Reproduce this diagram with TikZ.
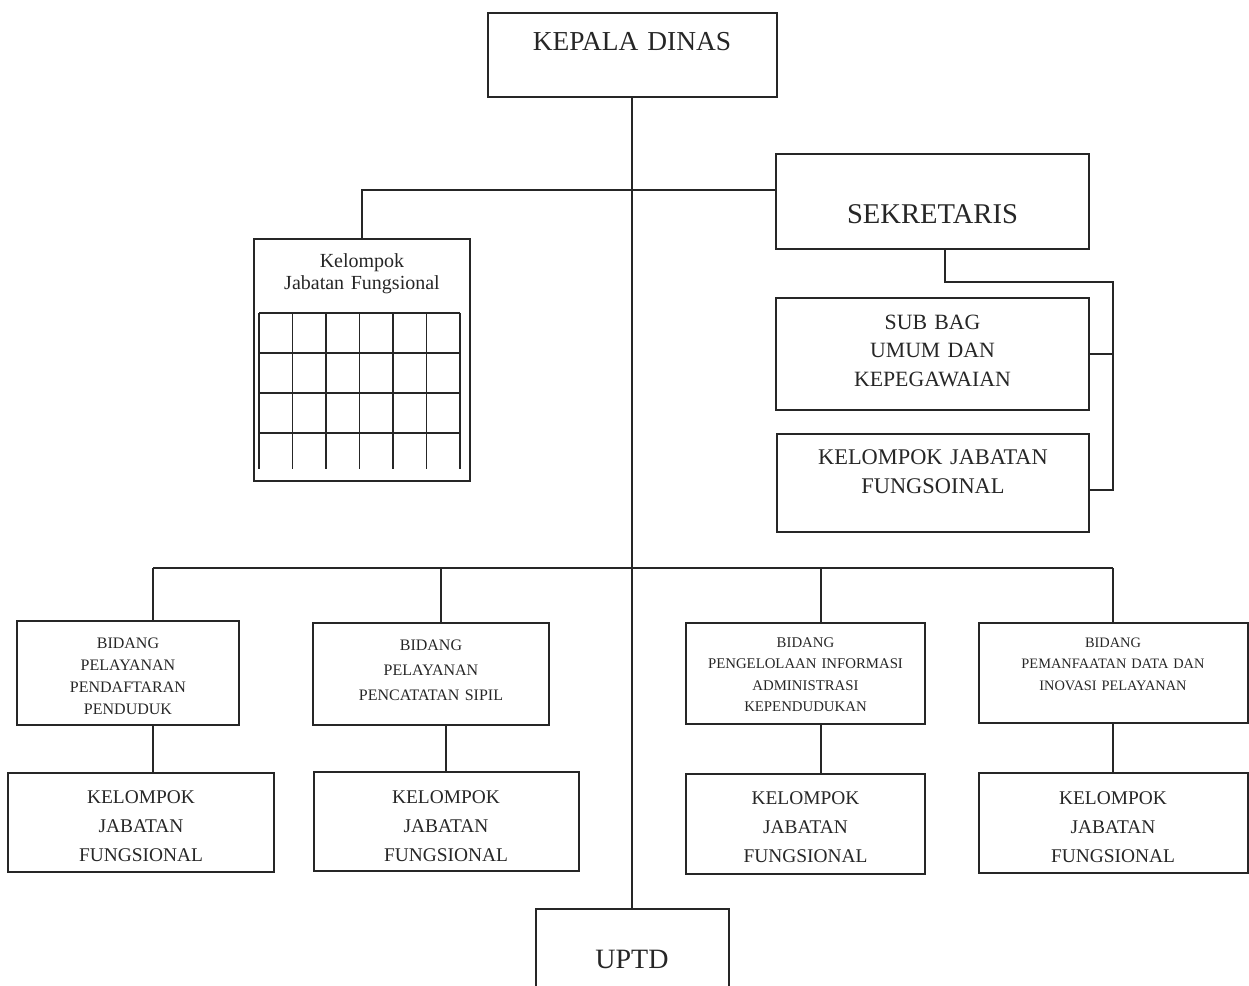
\documentclass[tikz,border=0pt]{standalone}
\usepackage{fontspec}
\setmainfont{Liberation Serif}
\usetikzlibrary{calc}

\begin{document}
\begin{tikzpicture}[-, x=0.5pt, y=-0.5pt, line width=1pt, color=black!85]
	\tikzstyle{orgbox}=[draw, rectangle, anchor=north, inner sep=0pt, align=center]
	\tikzstyle{bidang}=[orgbox, font=\fontsize{8}{11}\selectfont]
	\tikzstyle{fungsional}=[orgbox, font=\fontsize{9.7}{14.5}\selectfont]
	\useasboundingbox (0,0) rectangle (1249,986);

	\node[orgbox, text width=144.5pt, text height=18.5pt, text depth=23.5pt, font=\fontsize{13.7}{16}\selectfont] (kepala) at (632,12) {KEPALA DINAS};
	\node[orgbox, text width=156.5pt, text height=34.5pt, text depth=13pt, font=\fontsize{14.3}{17}\selectfont] (sek) at (932.5,153) {SEKRETARIS};
	\node[orgbox, text width=156.5pt, text height=15.5pt, text depth=40.5pt, font=\fontsize{10.9}{14.25}\selectfont] (subbag) at (932.5,297) {SUB BAG\\UMUM DAN\\KEPEGAWAIAN};
	\node[orgbox, text width=156pt, text height=15pt, text depth=34pt, font=\fontsize{11.2}{14.5}\selectfont] (kjs) at (933,433) {KELOMPOK JABATAN\\FUNGSOINAL};
	\node[orgbox, text width=108pt, text height=14pt, text depth=107pt, font=\fontsize{10}{11}\selectfont] (kfg) at (362,238) {Kelompok\\Jabatan Fungsional};

	\node[bidang, text width=111pt, text height=13.5pt, text depth=38.5pt] (b1) at (128,620) {BIDANG\\PELAYANAN\\PENDAFTARAN\\PENDUDUK};
	\node[bidang, text width=118pt, text height=13.5pt, text depth=37.5pt, font=\fontsize{8}{12.5}\selectfont] (b2) at (431,622) {BIDANG\\PELAYANAN\\PENCATATAN SIPIL};
	\node[bidang, text width=119.5pt, text height=12pt, text depth=38.5pt, font=\fontsize{7.4}{10.8}\selectfont] (b3) at (805.5,622) {BIDANG\\PENGELOLAAN INFORMASI\\ADMINISTRASI\\KEPENDUDUKAN};
	\node[bidang, text width=134.5pt, text height=12pt, text depth=38pt, font=\fontsize{7.2}{10.75}\selectfont] (b4) at (1113,622) {BIDANG\\PEMANFAATAN DATA DAN\\INOVASI PELAYANAN};

	\node[fungsional, text width=133pt, text height=15pt, text depth=34.5pt] (k1) at (141,772) {KELOMPOK\\JABATAN\\FUNGSIONAL};
	\node[fungsional, text width=132.5pt, text height=15.5pt, text depth=34pt] (k2) at (446,771) {KELOMPOK\\JABATAN\\FUNGSIONAL};
	\node[fungsional, text width=119.5pt, text height=15pt, text depth=35pt] (k3) at (805.5,773) {KELOMPOK\\JABATAN\\FUNGSIONAL};
	\node[fungsional, text width=134.5pt, text height=15.5pt, text depth=34.5pt] (k4) at (1113,772) {KELOMPOK\\JABATAN\\FUNGSIONAL};

	\node[orgbox, text width=96.5pt, text height=29.5pt, text depth=30pt, font=\fontsize{14}{17}\selectfont] (uptd) at (632,908) {UPTD};

	\foreach \i in {0,...,6}{
		\draw[line width=0.8pt] (259+33.5*\i,313) -- (259+33.5*\i,469);
	}
	\foreach \j in {0,...,3}{
		\draw[line width=0.8pt] (259,313+40*\j) -- (460,313+40*\j);
	}

	\coordinate (j1) at (632,190);
	\coordinate (r1) at (1113,282);
	\coordinate (r2) at (1113,490);
	\coordinate (d1) at (153,568);
	\coordinate (d2) at (441,568);
	\coordinate (d3) at (821,568);
	\coordinate (d4) at (1113,568);

	\draw (kepala.south) -- (uptd.north);
	\draw (kfg.north) |- (j1) -- (j1 -| sek.west);
	\draw ([xshift=6.25pt]sek.south) |- (r1) -- (r2) -- (r2 -| kjs.east);
	\draw (subbag.east) -- (subbag.east -| r1);
	\draw (d1) -- (d4);
	\foreach \d/\b in {d1/b1, d2/b2, d3/b3, d4/b4}{
		\draw (\d) -- (\d |- \b.north);
	}
	\draw (d1 |- b1.south) -- (d1 |- k1.north);
	\draw (b2.south -| k2.north) -- (k2.north);
	\draw (d3 |- b3.south) -- (d3 |- k3.north);
	\draw (b4.south) -- (k4.north);
\end{tikzpicture}
\end{document}
